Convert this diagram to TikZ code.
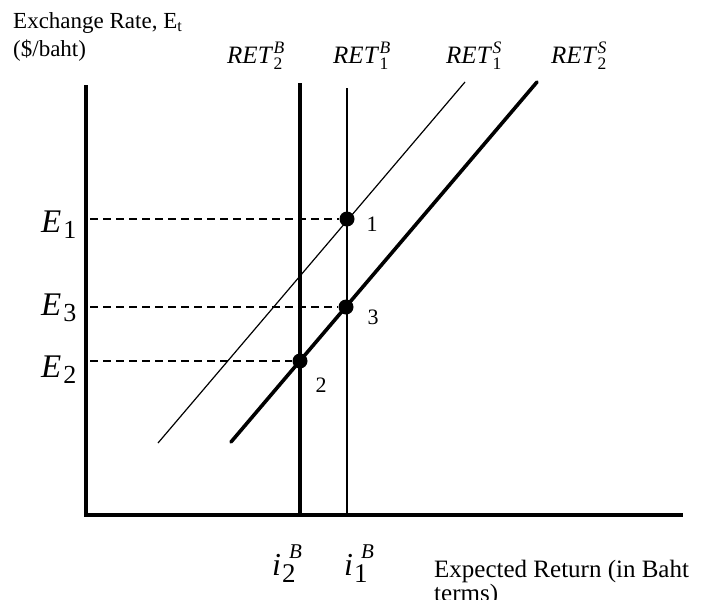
\documentclass[tikz,border=0pt]{standalone}
\usepackage{amsmath}
\usepackage{fontspec}
\setmainfont{Liberation Serif}
\usepackage{tikz}
\usetikzlibrary{positioning}
\newcommand{\retsym}[3]{\textit{#1}\kern0.5pt$^{\textit{#2}}_{\text{#3}}$}
\newcommand{\elbl}[1]{\textit{E}\kern2pt\raisebox{-6pt}{\fontsize{26}{26}\selectfont #1}}
\newcommand{\ilbl}[1]{\textit{i}\kern1pt%
  \makebox[0pt][l]{\kern7pt\raisebox{17pt}{\fontsize{21}{21}\selectfont\itshape B}}%
  \raisebox{-7pt}{\fontsize{27}{27}\selectfont #1}}

\begin{document}
\begin{tikzpicture}[
    x=1pt,y=-1pt,
    axis/.style={draw=black,line width=3.5pt},
    thincurve/.style={draw=black,line width=1.2pt},
    boldcurve/.style={draw=black,line width=3.6pt,line cap=round},
    guide/.style={draw=black,dash pattern=on 8pt off 5pt,line width=1.3pt},
    dot/.style={circle,fill=black,inner sep=0pt,minimum size=15pt},
    lbl/.style={font=\fontsize{22}{28}\selectfont,inner sep=0pt},
    curvelbl/.style={font=\fontsize{25}{25}\selectfont,inner sep=0pt,anchor=base west},
    big/.style={font=\fontsize{33}{33}\selectfont,inner sep=0pt,anchor=base west},
    title/.style={inner sep=0pt,align=left,anchor=north west}
  ]
    \useasboundingbox (0,0) rectangle (702,600);

    % axes
    \coordinate (O) at (86,515);
    \coordinate (ytop) at (86,85);
    \coordinate (xend) at (683,515);
    \draw[axis] (ytop) -- (O) -- (xend);

    % returns on baht and dollar deposits
    \coordinate (b2top) at (300,83);
    \coordinate (b1top) at (347,88);
    \coordinate (s1bot) at (158,443);
    \coordinate (s1top) at (465,82);
    \coordinate (s2bot) at (231,442);
    \coordinate (s2top) at (537,82);
    \draw[boldcurve,line cap=butt] (b2top) -- (b2top |- O);
    \draw[thincurve] (b1top) -- (b1top |- O);
    \draw[thincurve] (s1bot) -- (s1top);
    \draw[boldcurve] (s2bot) -- (s2top);

    % equilibria
    \node[dot] (p1) at (347,219) {};
    \node[dot] (p3) at (346,307) {};
    \node[dot] (p2) at (300,361) {};
    \draw[guide] ([xshift=4pt]O |- p1) -- (p1);
    \draw[guide] ([xshift=4pt]O |- p3) -- (p3);
    \draw[guide] ([xshift=4pt]O |- p2) -- (p2);
    \node[lbl] (n1) at (372,224) {1};
    \node[lbl] (n3) at (373,317) {3};
    \node[lbl] (n2) at (321,385) {2};

    \node[big] (e1) at (41,232) {\elbl{1}};
    \node[big] (e3) at (41,315) {\elbl{3}};
    \node[big] (e2) at (41,377) {\elbl{2}};

    \node[curvelbl] (retb2) at (227,63) {\retsym{RET}{B}{2}};
    \node[curvelbl] (retb1) at (333,63) {\retsym{RET}{B}{1}};
    \node[curvelbl] (rets1) at (446,63) {\retsym{RET}{S}{1}};
    \node[curvelbl] (rets2) at (551,63) {\retsym{RET}{S}{2}};

    \node[big,font=\fontsize{32}{32}\selectfont] (i2) at (272,575) {\ilbl{2}};
    \node[big,font=\fontsize{32}{32}\selectfont] (i1) at (344,575) {\ilbl{1}};

    \node[title,font=\fontsize{23}{28}\selectfont] (ylab) at (13,12)
      {Exchange Rate, E\textsubscript{t}\\(\$/baht)};
    \node[title,font=\fontsize{25}{22}\selectfont] (xlab) at (434,560)
      {Expected Return (in Baht\\terms)};
  \end{tikzpicture}
\end{document}
